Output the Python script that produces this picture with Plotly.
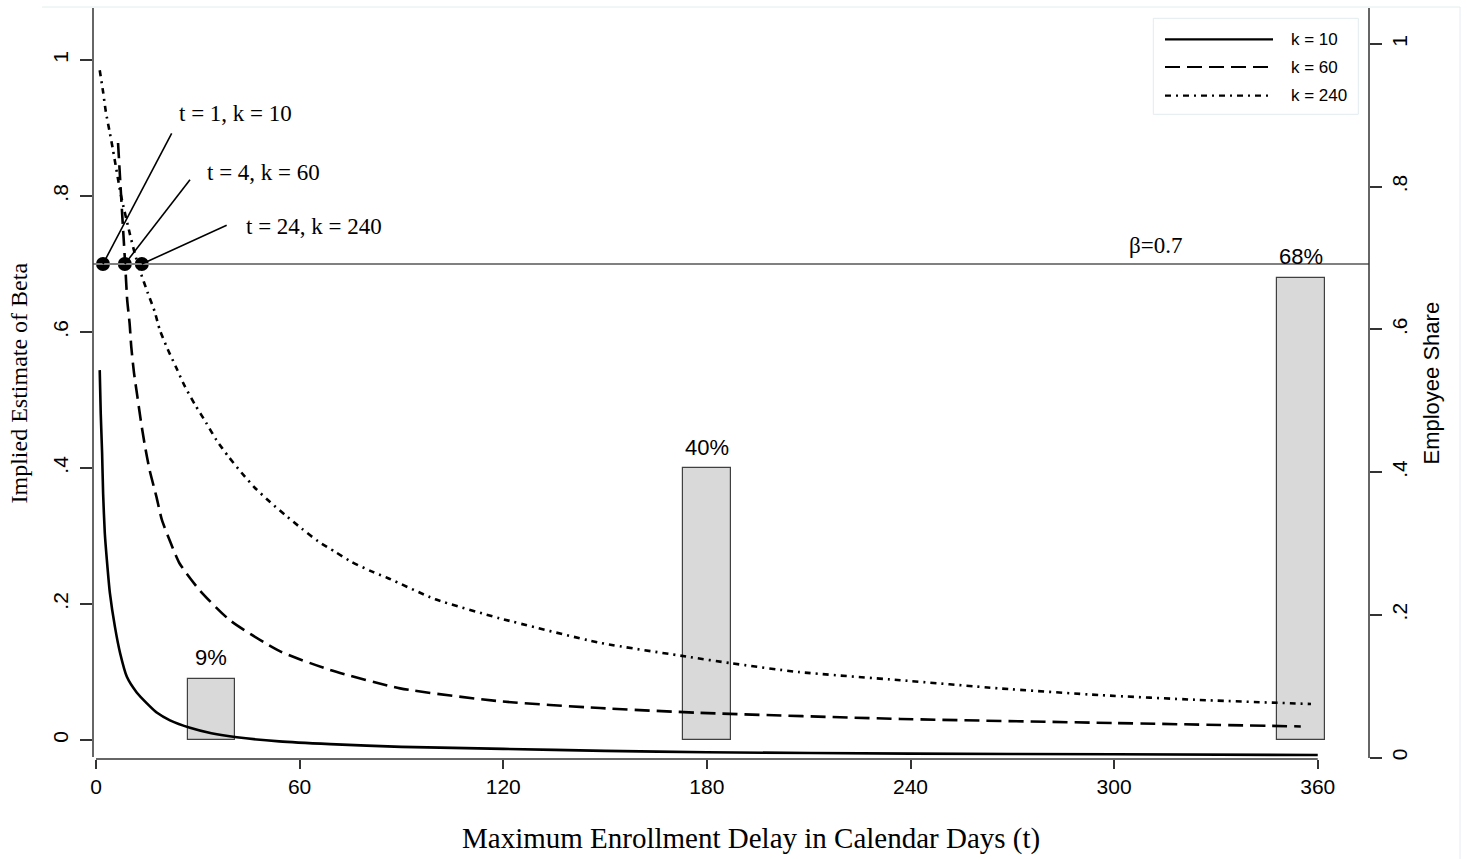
import plotly.graph_objects as go

# ---- data -------------------------------------------------------------
# implied beta curves, x = maximum enrollment delay in calendar days
t_k10 = [1.1, 1.4, 1.8, 2.1, 2.6, 3.2, 4.1, 5.6, 7.1, 9.1, 12, 15, 18, 21.8,
         27.7, 34, 41.5, 54, 69, 90, 120, 150, 180, 240, 300, 360]
beta_k10 = [0.544, 0.48, 0.422, 0.363, 0.304, 0.265, 0.216, 0.166, 0.128,
            0.093, 0.07, 0.054, 0.04, 0.029, 0.018, 0.01, 0.004, -0.002,
            -0.006, -0.01, -0.013, -0.016, -0.018, -0.02, -0.021, -0.022]

t_k60 = [6.5, 7.4, 8.6, 9.2, 9.9, 10.4, 11.2, 12.2, 13.2, 14.3, 15.8, 17.8,
         19.4, 22.0, 24.6, 30.6, 39.5, 54, 69, 89.6, 119, 148.5, 178, 237,
         300, 355]
beta_k60 = [0.878, 0.80, 0.70, 0.647, 0.613, 0.578, 0.54, 0.505, 0.47,
            0.436, 0.397, 0.358, 0.324, 0.29, 0.26, 0.22, 0.176, 0.131,
            0.103, 0.076, 0.057, 0.047, 0.04, 0.031, 0.025, 0.02]

t_k240 = [1.1, 2.1, 2.9, 4.0, 5.0, 7.4, 9.9, 11.4, 12.9, 15.3, 17.3, 18.8,
          21.2, 23.7, 26.2, 29.2, 32.4, 35.5, 39, 42.9, 46.8, 51.3, 55.7,
          60.6, 65.5, 70.4, 75.3, 81.2, 86.1, 100, 119, 148.5, 175, 187,
          207, 237, 266, 296, 325, 358]
beta_k240 = [0.985, 0.953, 0.924, 0.895, 0.868, 0.80, 0.746, 0.716, 0.691,
             0.657, 0.63, 0.603, 0.574, 0.547, 0.52, 0.493, 0.467, 0.441,
             0.417, 0.393, 0.371, 0.35, 0.331, 0.311, 0.292, 0.277, 0.262,
             0.248, 0.238, 0.207, 0.179, 0.143, 0.122, 0.113, 0.10, 0.088,
             0.076, 0.066, 0.059, 0.053]

# employee share by enrollment window
share_days = [34, 180, 355]
share_values = [0.09, 0.40, 0.68]

# reference beta and the points where each curve reaches it
beta_ref = 0.7
cross_t = [2.06, 8.5, 13.5]
cross_labels = ["t = 1, k = 10", "t = 4, k = 60", "t = 24, k = 240"]

legend_labels = ["k = 10", "k = 60", "k = 240"]

x_ticks = [0, 60, 120, 180, 240, 300, 360]
y_ticks = [0, 0.2, 0.4, 0.6, 0.8, 1]
y_ticktext = ["0", ".2", ".4", ".6", ".8", "1"]

# ---- layout geometry (pixels) ----------------------------------------
W, H = 1467, 859
PL, PR, PT, PB = 93, 1369, 8, 759          # plot area edges


def px(xp):
    return (xp - PL) / (PR - PL)


def py(yp):
    return (PB - yp) / (PB - PT)


SANS = "Liberation Sans, Arial, sans-serif"
SERIF = "Liberation Serif, Times New Roman, serif"
INK = "#000000"
AXC = "#333333"

DASHES = ["solid", "15px,7px", "6px,5px,2px,5px"]

fig = go.Figure()

fig.add_trace(go.Bar(
    x=share_days, y=share_values, width=14,
    marker=dict(color="#d9d9d9", line=dict(color="#404040", width=1.2)),
    hoverinfo="skip", showlegend=False,
))

for tt, bb, dash in zip([t_k10, t_k60, t_k240],
                        [beta_k10, beta_k60, beta_k240], DASHES):
    fig.add_trace(go.Scatter(
        x=tt, y=bb, mode="lines",
        line=dict(color=INK, width=2.6, dash=dash, shape="spline",
                  smoothing=0.6),
        showlegend=False, hoverinfo="skip",
    ))

fig.add_trace(go.Scatter(
    x=cross_t, y=[beta_ref] * len(cross_t), mode="markers",
    marker=dict(color=INK, size=14), showlegend=False, hoverinfo="skip",
))

# invisible trace so the right-hand axis is drawn
fig.add_trace(go.Scatter(x=[0], y=[0], yaxis="y2", mode="markers",
                         marker=dict(opacity=0), showlegend=False,
                         hoverinfo="skip"))

shapes = []
# reference line at beta = 0.7
shapes.append(dict(type="line", xref="paper", yref="y", x0=0, x1=1,
                   y0=beta_ref, y1=beta_ref,
                   line=dict(color="#808080", width=2)))
# axis lines
shapes.append(dict(type="line", xref="x", yref="paper", x0=0, x1=360,
                   y0=0, y1=0, line=dict(color=AXC, width=1.5)))
shapes.append(dict(type="line", xref="paper", yref="paper", x0=0, x1=0,
                   y0=py(757), y1=1, line=dict(color=AXC, width=1.5)))
shapes.append(dict(type="line", xref="paper", yref="paper", x0=1, x1=1,
                   y0=py(758), y1=1, line=dict(color=AXC, width=1.5)))
# faint outer frame
shapes.append(dict(type="line", xref="paper", yref="paper", x0=px(42),
                   x1=px(1460), y0=py(7), y1=py(7),
                   line=dict(color="#e3ecef", width=1)))
shapes.append(dict(type="line", xref="paper", yref="paper", x0=px(1460),
                   x1=px(1460), y0=py(7), y1=py(859),
                   line=dict(color="#e3ecef", width=1)))

# leader lines from the crossing points to their labels
leader_ends = [(22.3, 0.892), (27.7, 0.824), (38.5, 0.757)]
label_pos = [(23.8, 0.921), (32.0, 0.834), (43.7, 0.755)]
for t0, (t1, b1) in zip(cross_t, leader_ends):
    shapes.append(dict(type="line", xref="x", yref="y", x0=t0, y0=beta_ref,
                       x1=t1, y1=b1, line=dict(color=INK, width=1.6)))

annotations = []
for lab, (lx, ly) in zip(cross_labels, label_pos):
    annotations.append(dict(x=lx, y=ly, xref="x", yref="y", text=lab,
                            showarrow=False, xanchor="left", yanchor="middle",
                            font=dict(family=SERIF, size=23, color=INK)))

annotations.append(dict(x=303.8, y=0.727, xref="x", yref="y",
                        text="\u03b2=0.7", showarrow=False, xanchor="left",
                        yanchor="middle",
                        font=dict(family=SERIF, size=23, color=INK)))

# share labels above bars
for d, v in zip(share_days, share_values):
    annotations.append(dict(x=d, y=v, xref="x", yref="y",
                            text=f"{round(v * 100)}%", showarrow=False,
                            xanchor="center", yanchor="middle", yshift=21,
                            font=dict(family=SANS, size=22, color=INK)))

# axis titles
annotations.append(dict(x=px(751), y=py(838), xref="paper", yref="paper",
                        text="Maximum Enrollment Delay in Calendar Days (t)",
                        showarrow=False, xanchor="center", yanchor="middle",
                        font=dict(family=SERIF, size=29, color=INK)))
annotations.append(dict(x=px(18), y=0.5, xref="paper", yref="paper",
                        text="Implied Estimate of Beta", textangle=-90,
                        showarrow=False, xanchor="center", yanchor="middle",
                        font=dict(family=SERIF, size=24, color=INK)))
annotations.append(dict(x=px(1431), y=0.5, xref="paper", yref="paper",
                        text="Employee Share", textangle=-90,
                        showarrow=False, xanchor="center", yanchor="middle",
                        font=dict(family=SANS, size=22, color=INK)))

# legend box
shapes.append(dict(type="rect", xref="paper", yref="paper",
                   x0=px(1153.3), x1=px(1358.3), y0=py(114.3), y1=py(18.3),
                   line=dict(color="#e3ecef", width=1), fillcolor="white"))
for lab, dash, yrow in zip(legend_labels, DASHES, [39.3, 67, 95.7]):
    shapes.append(dict(type="line", xref="paper", yref="paper",
                       x0=px(1165), x1=px(1273), y0=py(yrow), y1=py(yrow),
                       line=dict(color=INK, width=2.2, dash=dash)))
    annotations.append(dict(x=px(1289), y=py(yrow), xref="paper",
                            yref="paper", text=lab, showarrow=False,
                            xanchor="left", yanchor="middle",
                            font=dict(family=SANS, size=17, color=INK)))

fig.update_layout(
    width=W, height=H,
    margin=dict(l=PL, r=W - PR, t=PT, b=H - PB, pad=0),
    paper_bgcolor="white", plot_bgcolor="white",
    showlegend=False,
    bargap=0,
    xaxis=dict(range=[-0.88, 375.1], tickvals=x_ticks, ticks="outside",
               ticklen=9, tickwidth=1.5, tickcolor=AXC, showline=False,
               showgrid=False, zeroline=False,
               tickfont=dict(family=SANS, size=21, color=INK)),
    yaxis=dict(range=[-0.0279, 1.0765], tickvals=y_ticks, ticktext=y_ticktext,
               tickangle=-90, ticks="outside", ticklen=12, tickwidth=1.5,
               tickcolor=AXC, showline=False, showgrid=False, zeroline=False,
               ticklabelstandoff=4,
               tickfont=dict(family=SANS, size=21, color=INK)),
    yaxis2=dict(range=[-0.0021, 1.0505], tickvals=y_ticks,
                ticktext=y_ticktext, tickangle=-90, overlaying="y",
                side="right", ticks="outside", ticklen=12, tickwidth=1.5,
                tickcolor=AXC, showline=False, showgrid=False,
                zeroline=False,
                tickfont=dict(family=SANS, size=21, color=INK)),
    shapes=shapes,
    annotations=annotations,
)

fig.write_html("out.html")
